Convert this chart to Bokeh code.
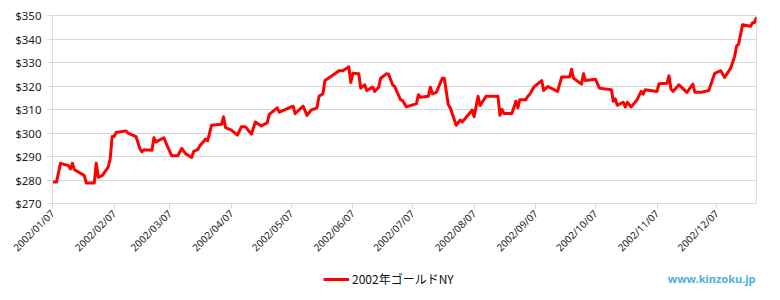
import math
import pandas as pd
from bokeh.plotting import figure
from bokeh.layouts import column
from bokeh.models import (Range1d, FixedTicker, DatetimeTickFormatter, PrintfTickFormatter,
                          Legend, LegendItem, Label, ColumnDataSource)
from bokeh.embed import file_html
from bokeh.resources import INLINE

series_name = "2002年ゴールドNY"
watermark = "www.kinzoku.jp"

dates = [
    "2002-01-07", "2002-01-09", "2002-01-11", "2002-01-15", "2002-01-16", "2002-01-17", "2002-01-18",
    "2002-01-23", "2002-01-24", "2002-01-28", "2002-01-29", "2002-01-30", "2002-02-01", "2002-02-04",
    "2002-02-05", "2002-02-06", "2002-02-07", "2002-02-08", "2002-02-13", "2002-02-14", "2002-02-18",
    "2002-02-20", "2002-02-21", "2002-02-22", "2002-02-26", "2002-02-27", "2002-02-28", "2002-03-04",
    "2002-03-06", "2002-03-08", "2002-03-11", "2002-03-13", "2002-03-15", "2002-03-18", "2002-03-19",
    "2002-03-21", "2002-03-22", "2002-03-25", "2002-03-26", "2002-03-28", "2002-04-02", "2002-04-03",
    "2002-04-04", "2002-04-07", "2002-04-08", "2002-04-10", "2002-04-12", "2002-04-14", "2002-04-17",
    "2002-04-19", "2002-04-22", "2002-04-25", "2002-04-26", "2002-04-30", "2002-05-01", "2002-05-08",
    "2002-05-09", "2002-05-13", "2002-05-15", "2002-05-17", "2002-05-20", "2002-05-21", "2002-05-23",
    "2002-05-24", "2002-05-29", "2002-05-31", "2002-06-02", "2002-06-05", "2002-06-06", "2002-06-07",
    "2002-06-10", "2002-06-11", "2002-06-13", "2002-06-14", "2002-06-17", "2002-06-18", "2002-06-20",
    "2002-06-21", "2002-06-24", "2002-06-25", "2002-06-27", "2002-06-28", "2002-07-01", "2002-07-02",
    "2002-07-04", "2002-07-09", "2002-07-10", "2002-07-11", "2002-07-15", "2002-07-16", "2002-07-17",
    "2002-07-19", "2002-07-22", "2002-07-23", "2002-07-25", "2002-07-26", "2002-07-29", "2002-07-31",
    "2002-08-01", "2002-08-06", "2002-08-07", "2002-08-09", "2002-08-10", "2002-08-13", "2002-08-19",
    "2002-08-20", "2002-08-21", "2002-08-22", "2002-08-26", "2002-08-28", "2002-08-29", "2002-08-30",
    "2002-09-02", "2002-09-03", "2002-09-04", "2002-09-06", "2002-09-10", "2002-09-11", "2002-09-13",
    "2002-09-18", "2002-09-20", "2002-09-24", "2002-09-25", "2002-09-26", "2002-09-30", "2002-10-01",
    "2002-10-02", "2002-10-07", "2002-10-09", "2002-10-15", "2002-10-16", "2002-10-17", "2002-10-18",
    "2002-10-21", "2002-10-22", "2002-10-23", "2002-10-25", "2002-10-28", "2002-10-30", "2002-10-31",
    "2002-11-01", "2002-11-07", "2002-11-08", "2002-11-12", "2002-11-13", "2002-11-14", "2002-11-15",
    "2002-11-18", "2002-11-22", "2002-11-25", "2002-11-26", "2002-11-29", "2002-12-03", "2002-12-06",
    "2002-12-09", "2002-12-11", "2002-12-14", "2002-12-16", "2002-12-17", "2002-12-18", "2002-12-20",
    "2002-12-24", "2002-12-25", "2002-12-26", "2002-12-27",
]

prices = [
    279.1, 279.1, 287.1, 286.1, 284.7, 287.1, 284.4,
    281.9, 278.7, 278.7, 287.1, 281.2, 281.9, 285.5,
    289.0, 298.5, 298.5, 300.2, 300.9, 299.9, 298.5,
    293.2, 292.0, 292.9, 292.7, 298.0, 296.2, 298.0,
    293.9, 290.3, 290.3, 293.5, 291.1, 289.6, 292.2,
    292.9, 294.5, 297.4, 296.7, 303.3, 303.7, 306.9,
    302.3, 301.2, 300.5, 299.1, 302.7, 302.7, 299.5,
    304.7, 303.0, 304.4, 307.9, 310.7, 308.9, 311.4,
    308.2, 311.4, 307.5, 309.7, 310.7, 315.6, 316.7,
    322.3, 325.2, 326.5, 326.5, 328.2, 321.5, 325.4,
    325.2, 319.1, 320.5, 318.1, 319.5, 317.7, 319.5,
    323.3, 325.2, 325.0, 320.5, 319.8, 314.2, 313.8,
    311.1, 312.5, 316.3, 315.2, 315.6, 319.5, 316.7,
    317.3, 323.3, 323.3, 312.1, 310.7, 303.3, 305.5,
    304.7, 309.7, 306.9, 315.6, 311.7, 315.6, 315.6,
    307.5, 310.0, 308.3, 308.3, 313.5, 310.7, 314.2,
    314.2, 315.6, 316.5, 319.5, 322.3, 318.1, 319.8,
    317.7, 323.8, 323.8, 327.1, 323.3, 320.8, 325.2,
    322.3, 322.9, 319.1, 318.4, 313.5, 314.5, 311.8,
    313.1, 311.1, 313.1, 311.1, 314.2, 317.7, 316.5,
    318.4, 317.7, 321.0, 321.2, 324.4, 318.7, 317.7,
    320.5, 317.3, 320.8, 317.3, 317.3, 318.1, 325.4,
    326.5, 323.6, 327.6, 332.5, 337.0, 337.8, 346.1,
    345.4, 346.9, 347.0, 349.3,
]

tick_labels = ["2002/01/07", "2002/02/07", "2002/03/07", "2002/04/07", "2002/05/07", "2002/06/07",
               "2002/07/07", "2002/08/07", "2002/09/07", "2002/10/07", "2002/11/07", "2002/12/07"]
y_ticks = [270, 280, 290, 300, 310, 320, 330, 340, 350]

dt = pd.to_datetime(dates)
src = ColumnDataSource(dict(date=dt, price=prices))

epoch = pd.Timestamp("1970-01-01")
tick_ms = [(pd.Timestamp(t.replace("/", "-")) - epoch) / pd.Timedelta(milliseconds=1) for t in tick_labels]

LINE_COLOR = "#ff0000"
grid_col = "#d9d9d9"

fig = figure(width=780, height=262, x_axis_type="datetime", output_backend="svg",
             toolbar_location=None,
             x_range=Range1d(dt[0], dt[-1]), y_range=Range1d(min(y_ticks), max(y_ticks)),
             min_border_left=52, min_border_right=24, min_border_top=15, min_border_bottom=57)
fig.background_fill_color = "white"
fig.border_fill_color = "white"
fig.outline_line_color = grid_col

fig.line(x="date", y="price", source=src, line_color=LINE_COLOR, line_width=3, line_join="round")

fig.xgrid.visible = False
fig.ygrid.grid_line_color = grid_col
fig.ygrid.ticker = FixedTicker(ticks=y_ticks)

ya = fig.yaxis[0]
ya.ticker = FixedTicker(ticks=y_ticks)
ya.formatter = PrintfTickFormatter(format="$%d")
ya.axis_line_color = grid_col
ya.major_tick_line_color = grid_col
ya.major_tick_out = 5
ya.major_tick_in = 0
ya.minor_tick_line_color = None
ya.major_label_text_font = "Noto Sans"
ya.major_label_text_font_size = "11.5px"
ya.major_label_text_color = "#222222"
ya.major_label_standoff = 6

xa = fig.xaxis[0]
xa.ticker = FixedTicker(ticks=tick_ms)
fmt = "%Y/%m/%d"
xa.formatter = DatetimeTickFormatter(days=fmt, months=fmt, years=fmt, hours=fmt, minutes=fmt,
                                     hourmin=fmt, seconds=fmt, minsec=fmt, milliseconds=fmt,
                                     microseconds=fmt, context=None)
xa.axis_line_color = grid_col
xa.major_tick_line_color = grid_col
xa.major_tick_out = 5
xa.major_tick_in = 0
xa.minor_tick_line_color = None
xa.major_label_orientation = math.pi / 4
xa.major_label_text_font = "Noto Sans"
xa.major_label_text_font_size = "10px"
xa.major_label_text_color = "#222222"
xa.major_label_standoff = 3

# bottom strip: legend + watermark (series drawn out of view, only for the legend swatch)
strip = figure(width=780, height=38, output_backend="svg", toolbar_location=None,
               x_range=Range1d(0, 1), y_range=Range1d(0, 1),
               x_axis_location=None, y_axis_location=None,
               min_border_left=52, min_border_right=24,
               min_border_top=0, min_border_bottom=0)
strip.outline_line_color = None
strip.xgrid.visible = False
strip.ygrid.visible = False
strip.background_fill_color = "white"
strip.border_fill_color = "white"

legend_r = strip.line(x="date", y="price", source=src, line_color=LINE_COLOR, line_width=3)

legend = Legend(items=[LegendItem(label=series_name, renderers=[legend_r])],
                orientation="horizontal", location=(271, 13),
                label_text_font="Noto Sans CJK JP", label_text_font_size="12px",
                label_text_color="#111111",
                glyph_width=26, glyph_height=12, label_standoff=3,
                border_line_color=None, background_fill_alpha=0,
                padding=2, margin=0)
strip.add_layout(legend, "center")

wm = Label(x=703, y=22, x_units="screen", y_units="screen", text=watermark,
           text_font="Noto Sans", text_font_size="11px", text_font_style="bold",
           text_color="#4fb0dc", text_baseline="middle", text_align="right")
strip.add_layout(wm)

p = column(fig, strip, spacing=0)

open("out.html", "w").write(file_html(p, INLINE))
